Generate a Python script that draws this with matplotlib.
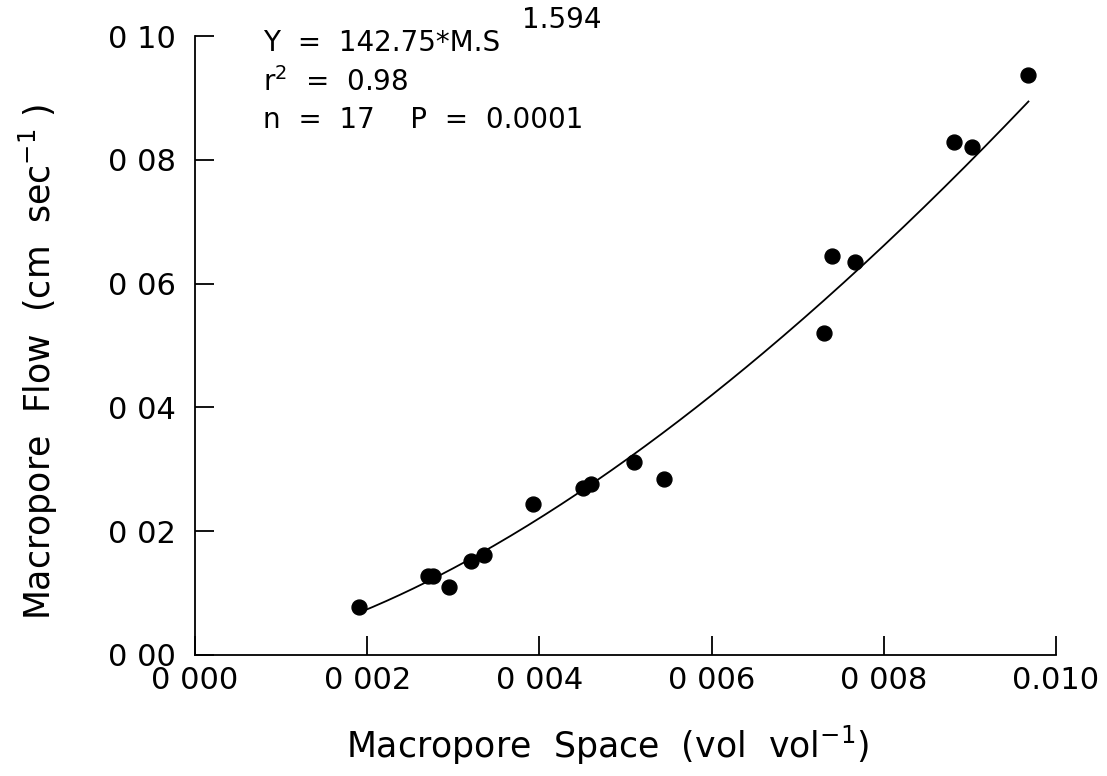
import matplotlib.pyplot as plt
import numpy as np

# macropore space (vol/vol) and macropore flow (cm/sec)
space = [0.00191, 0.00271, 0.00276, 0.00295, 0.00320, 0.00336, 0.00392,
         0.00451, 0.00460, 0.00510, 0.00545, 0.00730, 0.00740, 0.00767,
         0.00881, 0.00902, 0.00968]
flow = [0.0078, 0.0127, 0.0128, 0.0110, 0.0152, 0.0162, 0.0244,
        0.0270, 0.0276, 0.0311, 0.0285, 0.0521, 0.0645, 0.0635,
        0.0829, 0.0821, 0.0937]

xticks = [0.000, 0.002, 0.004, 0.006, 0.008, 0.010]
xticklabels = ["0 000", "0 002", "0 004", "0 006", "0 008", "0.010"]
yticks = [0.00, 0.02, 0.04, 0.06, 0.08, 0.10]
yticklabels = ["0 00", "0 02", "0 04", "0 06", "0 08", "0 10"]

fig = plt.figure(figsize=(11.07, 7.76), dpi=100)
ax = fig.add_axes([195 / 1107, 1 - 655 / 776, 861 / 1107, 619 / 776])

# power curve fitted through the points (log-log least squares)
b, loga = np.polyfit(np.log(space), np.log(flow), 1)
xs = np.linspace(min(space), max(space), 200)
ax.plot(xs, np.exp(loga) * xs ** b, color="black", lw=1.3)
ax.scatter(space, flow, s=115, color="black", zorder=3)

ax.set_xlim(0, 0.010)
ax.set_ylim(0, 0.10)
ax.spines["top"].set_visible(False)
ax.spines["right"].set_visible(False)
for s in ("left", "bottom"):
    ax.spines[s].set_linewidth(1.3)

ax.set_xticks(xticks)
ax.set_xticklabels(xticklabels)
ax.set_yticks(yticks)
ax.set_yticklabels(yticklabels)
ax.tick_params(direction="in", length=14, width=1.3, labelsize=22)
ax.tick_params(axis="x", pad=8)
ax.tick_params(axis="y", pad=14)

ax.set_xlabel("Macropore  Space  (vol  vol$^{-1}$)", fontsize=25)
ax.xaxis.set_label_coords((608 - 195) / 861, -(724 - 655) / 619)
ax.set_ylabel("Macropore  Flow  (cm  sec$^{-1}$ )", fontsize=25)
ax.yaxis.set_label_coords(-(195 - 60) / 861, (655 - 362) / 619)

# regression statistics
fs = 20
fig.text(263 / 1107, 1 - 43 / 776, "Y  =  142.75*M.S", fontsize=fs, va="center")
fig.text(522 / 1107, 1 - 20 / 776, "1.594", fontsize=fs, va="center")
fig.text(263 / 1107, 1 - 82 / 776, "r$^{2}$  =  0.98", fontsize=fs, va="center")
fig.text(263 / 1107, 1 - 120 / 776, "n  =  17    P  =  0.0001", fontsize=fs, va="center")

fig.savefig("out.png", dpi=100)
